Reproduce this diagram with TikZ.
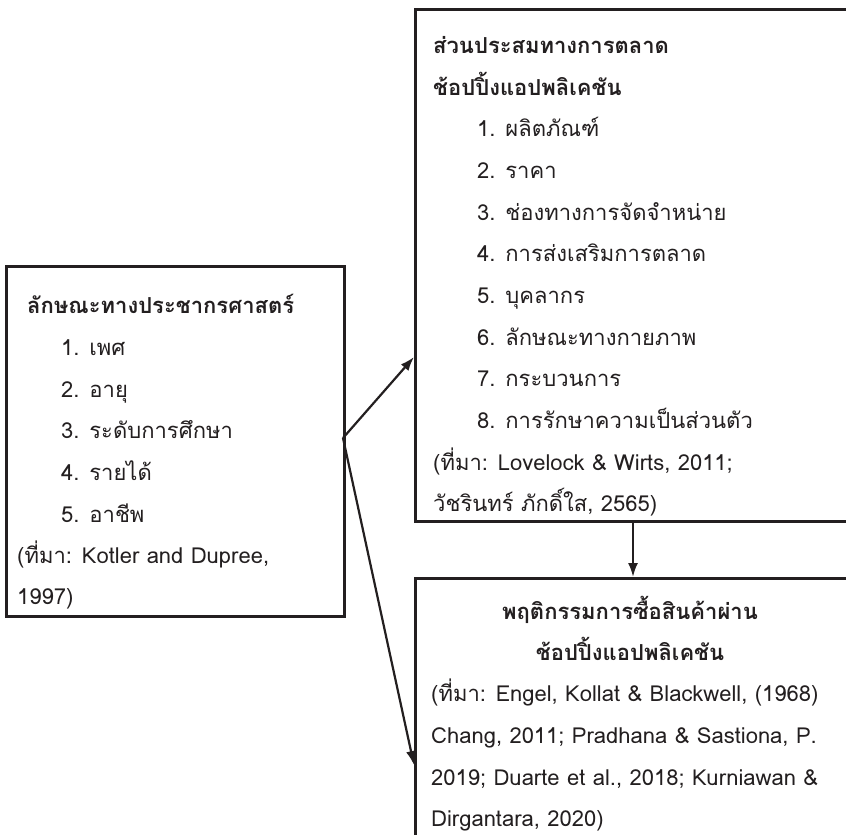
\documentclass[tikz,border=0pt]{standalone}
\usepackage{fontspec}
\setmainfont{Loma}[Script=Thai]
\usetikzlibrary{arrows.meta}
\definecolor{ink}{HTML}{231F20}
\begin{document}
\begin{tikzpicture}[x=1pt,y=-1pt,
  box/.style={draw=ink,line width=2.6pt,inner sep=0pt,anchor=north west},
  txt/.style={anchor=base west,inner sep=0pt,text=ink,font=\fontsize{22}{26}\selectfont},
  ttl/.style={txt,font=\fontsize{22}{26}\selectfont\bfseries},
  ttlc/.style={ttl,anchor=base},
  arr/.style={draw=ink,line width=2.2pt,-{Latex[length=14pt,width=10pt]}}]
\useasboundingbox (0,0) rectangle (846,835);
\clip (0,0) rectangle (846,835);
% boxes
\node[box,minimum width=338pt,minimum height=350pt] (L) at (5,265) {};
\node[box,minimum width=460pt,minimum height=512pt] (T) at (414,8) {};
\node[box,minimum width=460pt,minimum height=300pt] (B) at (414,577) {};
% left box text
\node[ttl] (l0) at (27,313) {ลักษณะทางประชากรศาสตร์};
\node[txt] (l1) at (61,355) {1. เพศ};
\node[txt] (l2) at (61,397) {2. อายุ};
\node[txt] (l3) at (61,438) {3. ระดับการศึกษา};
\node[txt] (l4) at (61,480) {4. รายได้};
\node[txt] (l5) at (61,522) {5. อาชีพ};
\node[txt] (l6) at (17,563) {(ที่มา: Kotler and Dupree,};
\node[txt] (l7) at (17,604) {1997)};
% top box text
\node[ttl] (t0) at (433,53) {ส่วนประสมทางการตลาด};
\node[ttl] (t1) at (433,95) {ช้อปปิ้งแอปพลิเคชัน};
\node[txt] (t2) at (477,136) {1. ผลิตภัณฑ์};
\node[txt] (t3) at (477,178) {2. ราคา};
\node[txt] (t4) at (477,220) {3. ช่องทางการจัดจำหน่าย};
\node[txt] (t5) at (477,261) {4. การส่งเสริมการตลาด};
\node[txt] (t6) at (477,303) {5. บุคลากร};
\node[txt] (t7) at (477,345) {6. ลักษณะทางกายภาพ};
\node[txt] (t8) at (477,386) {7. กระบวนการ};
\node[txt] (t9) at (477,428) {8. การรักษาความเป็นส่วนตัว};
\node[txt] (t10) at (433,470) {(ที่มา: Lovelock \& Wirts, 2011;};
\node[txt] (t11) at (433,511) {วัชรินทร์ ภักดิ์ใส, 2565)};
% bottom box text
\node[ttlc] (b0) at (630,619) {พฤติกรรมการซื้อสินค้าผ่าน};
\node[ttlc] (b1) at (630,660) {ช้อปปิ้งแอปพลิเคชัน};
\node[txt] (b2) at (431,701) {(ที่มา: Engel, Kollat \& Blackwell, (1968)};
\node[txt] (b3) at (431,743) {Chang, 2011; Pradhana \& Sastiona, P.};
\node[txt] (b4) at (431,785) {2019; Duarte et al., 2018; Kurniawan \&};
\node[txt] (b5) at (431,826) {Dirgantara, 2020)};
% connectors
\coordinate (s) at (343,438);
\coordinate (e1) at (414,357);
\coordinate (e2) at (414,765);
\coordinate (v1) at (633,520);
\coordinate (v2) at (633,577);
\draw[arr] (s) -- (e1);
\draw[arr] (s) -- (e2);
\draw[arr] (v1) -- (v2);
\end{tikzpicture}
\end{document}
